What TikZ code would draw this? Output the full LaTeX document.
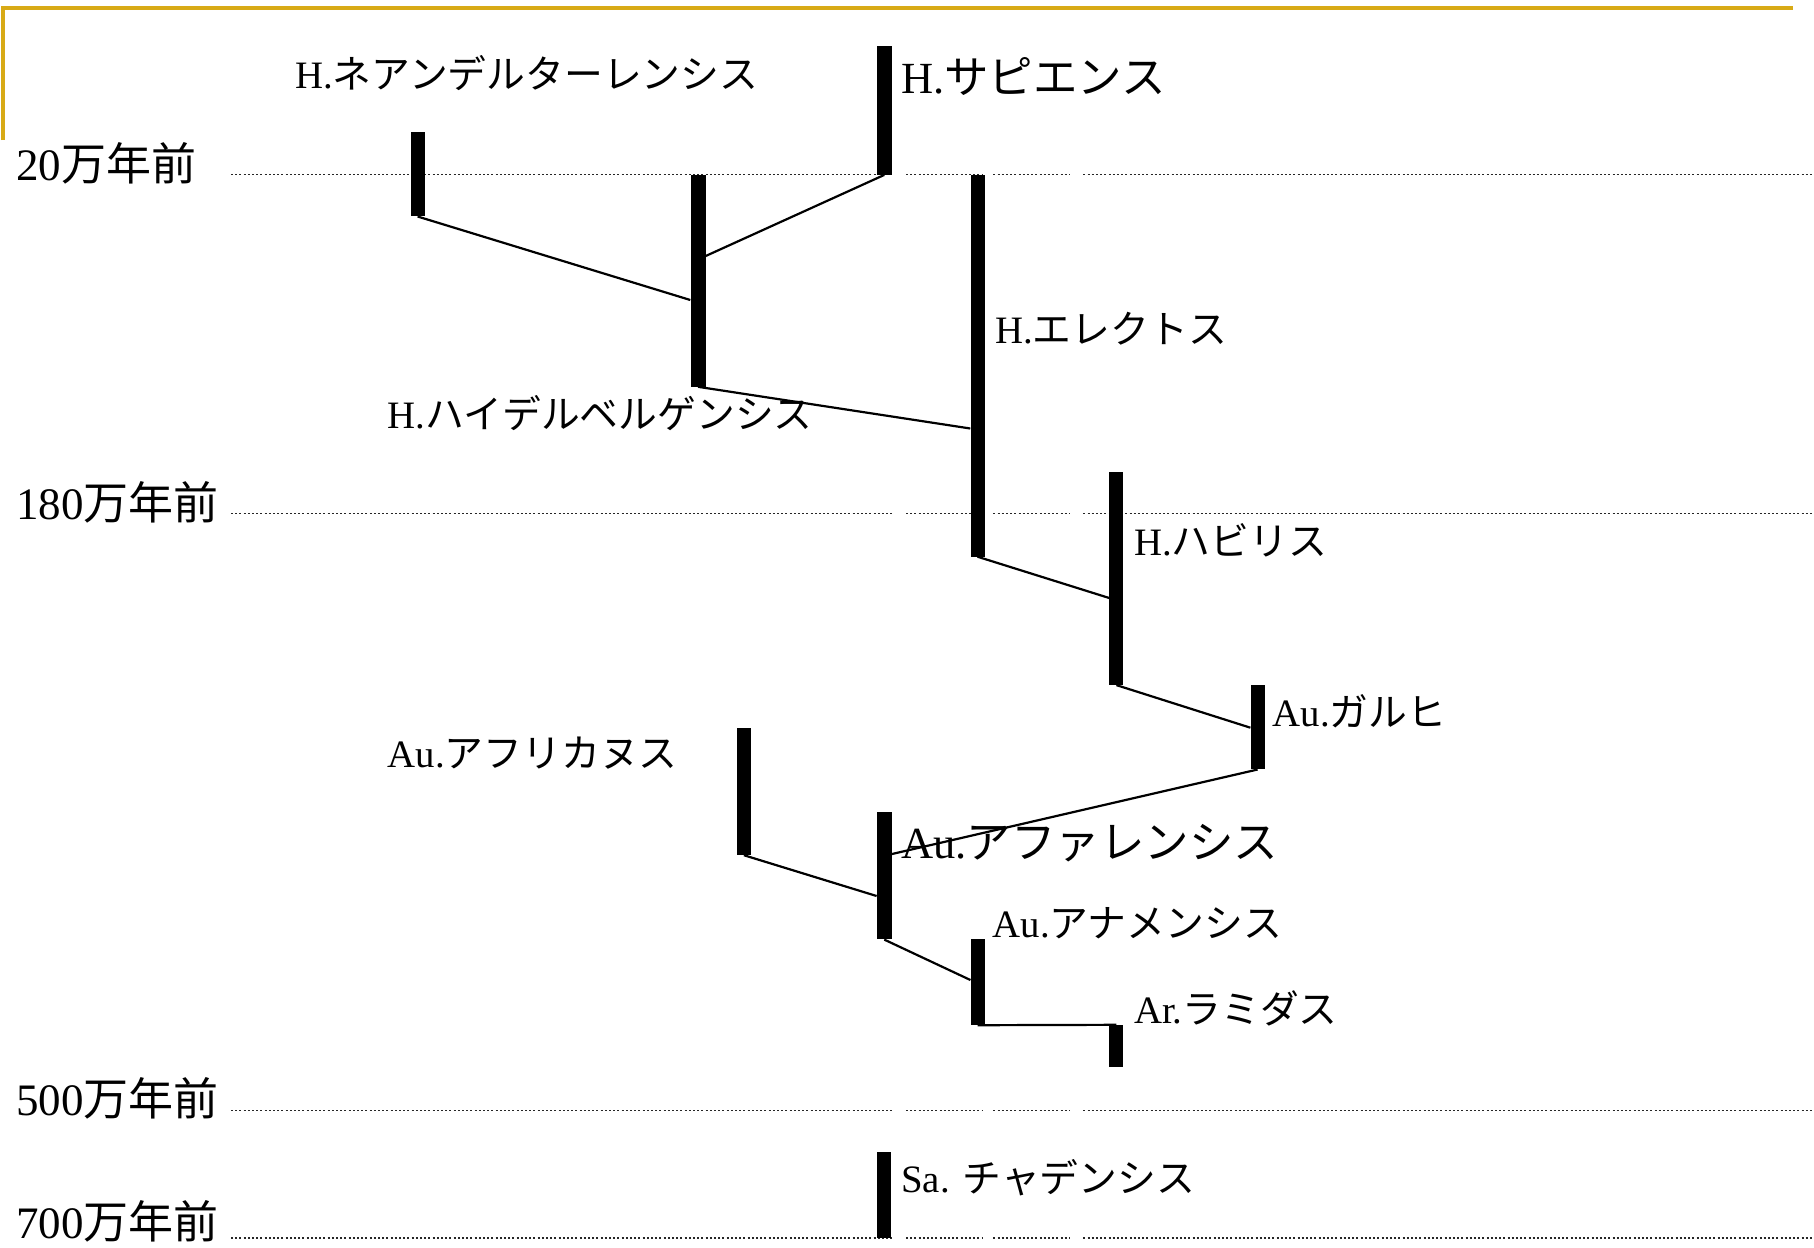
\documentclass[tikz,border=0pt]{standalone}
\usepackage{fontspec}
\setmainfont{Liberation Serif}
\newfontfamily\jp{Noto Sans CJK JP}
\definecolor{goldline}{RGB}{216,170,22}
\tikzset{
  bar/.style={fill=black, draw=none, inner sep=0pt, minimum width=14pt},
  lbl/.style={anchor=west, inner sep=0pt, font=\fontsize{38.8}{40}\selectfont},
  biglbl/.style={anchor=west, inner sep=0pt, font=\fontsize{44.5}{46}\selectfont},
  yearlbl/.style={anchor=west, inner sep=0pt, font=\fontsize{45}{46}\selectfont},
  link/.style={line width=2.2pt, black},
  grid/.style={line width=1.3pt, dash pattern=on 2pt off 2.2pt, black!85}
}
\begin{document}
\begin{tikzpicture}[x=1pt, y=-1pt]
\useasboundingbox (0,0) rectangle (1814,1247);
% gold frame
\draw[goldline, line width=4pt] (2.5,140) -- (2.5,8.3) -- (1792.7,8.3);
% dotted time lines
\foreach \yy in {174.5, 513.7, 1110.6, 1237.9}{
  \draw[grid] (231,\yy) -- (891.7,\yy);
  \draw[grid] (906,\yy) -- (983.3,\yy);
  \draw[grid] (993.3,\yy) -- (1070,\yy);
  \draw[grid] (1083.3,\yy) -- (1814,\yy);
}
% year labels
\node[yearlbl] (y20)  at (16,163.1) {20{\jp 万年前}};
\node[yearlbl] (y180) at (16,502.1) {180{\jp 万年前}};
\node[yearlbl] (y500) at (16,1097.9) {500{\jp 万年前}};
\node[yearlbl] (y700) at (16,1221) {700{\jp 万年前}};
% bars
\node[bar, minimum height=84.4pt]  (nean) at (417.6,174.1) {};
\node[bar, minimum height=212pt, minimum width=15pt] (heid) at (698,280.6) {};
\node[bar, minimum height=128.4pt, minimum width=15pt] (sap)  at (884.3,110.5) {};
\node[bar, minimum height=381.8pt] (erec) at (977.5,365.6) {};
\node[bar, minimum height=212.9pt] (habi) at (1116.4,578.45) {};
\node[bar, minimum height=84.4pt]  (garh) at (1257.6,727.1) {};
\node[bar, minimum height=127.3pt] (afri) at (743.9,791.35) {};
\node[bar, minimum height=127.2pt, minimum width=15pt] (afar) at (884.3,875.8) {};
\node[bar, minimum height=85.6pt]  (anam) at (977.6,982.2) {};
\node[bar, minimum height=41.7pt]  (rami) at (1116.4,1045.85) {};
\node[bar, minimum height=85.6pt]  (sahe) at (884.3,1195.1) {};
% connectors
\draw[link] (nean.south) -- (heid.west |- 0,300);
\draw[link] (heid.east |- 0,256) -- (sap.south);
\draw[link] (heid.south) -- (erec.west |- 0,428.5);
\draw[link] (erec.south) -- (habi.west |- 0,598);
\draw[link] (habi.south) -- (garh.west |- 0,727.7);
\draw[link] (garh.south) -- (afar.east |- 0,854);
\draw[link] (afri.south) -- (afar.west |- 0,896);
\draw[link] (afar.south) -- (anam.west |- 0,980);
\draw[link] (anam.south) -- (rami.north);
% species labels
\node[lbl]    (tnean) at (295,72.9)    {H.{\jp ネアンデルターレンシス}};
\node[biglbl] (tsap)  at (901,76.4)    {H.{\jp サピエンス}};
\node[lbl]    (terec) at (995,328.6)   {H.{\jp エレクトス}};
\node[lbl]    (theid) at (387.6,413)   {H.{\jp ハイデルベルゲンシス}};
\node[lbl]    (thabi) at (1133.8,540.3) {H.{\jp ハビリス}};
\node[lbl]    (tgarh) at (1272.6,711.5) {Au.{\jp ガルヒ}};
\node[lbl]    (tafri) at (387.6,753)   {Au.{\jp アフリカヌス}};
\node[biglbl] (tafar) at (901,843.4)   {Au.{\jp アファレンシス}};
\node[lbl]    (tanam) at (992.6,923.2) {Au.{\jp アナメンシス}};
\node[lbl]    (trami) at (1133.8,1008.8) {Ar.{\jp ラミダス}};
\node[lbl]    (tsahe) at (901,1177.7)  {Sa. {\jp チャデンシス}};
\end{tikzpicture}
\end{document}
